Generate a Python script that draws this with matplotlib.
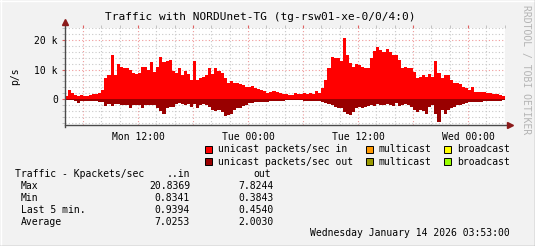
import numpy as np
import matplotlib
matplotlib.use("Agg")
import matplotlib.pyplot as plt
import matplotlib.dates as mdates
from matplotlib.patches import Rectangle
from matplotlib.ticker import FuncFormatter

# 20 minute buckets starting Mon 2026-01-12 04:00, values in Kpackets/sec
start = np.datetime64("2026-01-12T04:00")
step = np.timedelta64(20, "m")

in_k = [1.1, 3.0, 2.0, 1.5, 1.2, 1.3, 1.0, 1.0, 1.3, 1.6, 1.7, 2.2,
        3.0, 7.0, 8.0, 14.9, 8.1, 12.0, 11.0, 10.6, 10.6, 10.0, 9.0, 8.4,
        8.8, 11.0, 11.0, 9.8, 12.5, 9.3, 11.0, 14.1, 12.4, 12.8, 13.4, 9.5,
        9.0, 10.4, 8.1, 9.5, 8.4, 6.4, 13.0, 6.4, 7.2, 7.6, 8.1, 10.6,
        8.4, 10.4, 9.5, 8.7, 7.2, 5.3, 6.1, 5.6, 5.3, 5.0, 4.7, 4.2,
        4.2, 4.4, 3.6, 3.4, 3.1, 2.9, 2.0, 2.5, 2.7, 2.5, 1.9, 1.7,
        1.6, 1.4, 1.4, 1.9, 1.6, 1.8, 1.9, 1.7, 2.1, 1.8, 2.9, 2.1,
        3.6, 6.4, 10.4, 14.4, 14.0, 13.8, 12.9, 20.8, 15.1, 12.1, 11.0, 11.8,
        11.5, 11.0, 10.6, 10.4, 14.0, 16.3, 17.7, 16.6, 15.8, 17.0, 16.0, 15.1,
        15.1, 13.2, 10.4, 11.0, 10.6, 10.4, 9.3, 7.2, 7.6, 8.1, 7.6, 8.4,
        7.6, 12.9, 8.7, 7.0, 8.1, 8.1, 6.4, 5.6, 5.3, 5.0, 4.2, 3.6,
        3.1, 4.2, 2.5, 2.3, 2.5, 2.5, 1.9, 1.9, 1.7, 1.6, 1.4, 0.9]

out_k = [0.4, 0.4, 0.4, 0.5, 1.5, 0.5, 0.6, 0.6, 0.6, 0.6, 0.6, 0.9,
         1.1, 2.3, 1.6, 2.3, 1.8, 1.8, 2.0, 2.0, 2.0, 3.2, 2.0, 2.0,
         2.0, 2.9, 2.0, 2.0, 2.0, 2.0, 2.9, 4.1, 4.9, 3.2, 2.6, 2.6,
         1.8, 1.5, 1.8, 2.0, 1.8, 2.6, 1.8, 3.2, 2.0, 1.8, 2.0, 2.6,
         3.7, 4.1, 3.7, 4.3, 5.6, 5.4, 4.9, 3.7, 3.2, 2.9, 2.3, 2.0,
         1.5, 1.5, 1.1, 0.9, 0.9, 1.1, 0.9, 0.7, 0.7, 0.7, 0.7, 0.7,
         0.4, 0.4, 0.4, 0.4, 0.4, 0.4, 0.5, 0.5, 0.5, 0.5, 0.5, 0.7,
         1.1, 1.5, 1.8, 2.0, 2.6, 3.2, 2.9, 4.3, 4.9, 5.4, 4.5, 3.2,
         2.6, 2.9, 2.6, 2.3, 2.0, 2.3, 1.8, 2.0, 2.0, 1.8, 2.0, 2.3,
         1.5, 2.3, 2.0, 1.8, 2.0, 2.6, 3.7, 4.5, 3.7, 4.1, 4.9, 2.6,
         2.0, 4.9, 7.8, 3.7, 5.2, 3.7, 3.2, 2.6, 2.0, 2.0, 1.8, 1.5,
         1.1, 1.1, 1.1, 0.9, 0.9, 0.7, 0.7, 0.5, 0.5, 0.5, 0.5, 0.45]

stat_rows = ["Max", "Min", "Last 5 min.", "Average"]
stat_in = ["20.8369", "0.8341", "0.9394", "7.0253"]
stat_out = ["7.8244", "0.3843", "0.4540", "2.0030"]

legend_rows = [
    [("#ff0000", "unicast packets/sec in"), ("#ff9900", "multicast"), ("#ffff00", "broadcast")],
    [("#990000", "unicast packets/sec out"), ("#999900", "multicast"), ("#99ff00", "broadcast")],
]

W, H = 535, 246
BG = "#f2f2f2"
plt.rcParams["font.family"] = ["DejaVu Sans Mono"]

fig = plt.figure(figsize=(W / 100, H / 100), dpi=100, facecolor=BG)

def fx(x):
    return x / W

def fy(y):
    return 1 - y / H

# plot area
x0, x1, y0, y1 = 64.7, 504.7, 28.3, 125
ax = fig.add_axes([fx(x0), fy(y1), fx(x1) - fx(x0), fy(y0) - fy(y1)])
ax.set_facecolor("white")

n = len(in_k)
t = start + step * np.arange(n + 1)
t = t.astype("datetime64[m]").astype(object)
vin = np.array(in_k + [in_k[-1]]) * 1000
vout = -np.array(out_k + [out_k[-1]]) * 1000

ax.fill_between(t, 0, vin, step="post", color="#ff0000", linewidth=0, zorder=3)
ax.fill_between(t, vout, 0, step="post", color="#990000", linewidth=0, zorder=3)

tstart = np.datetime64("2026-01-12T04:00").astype(object)
tend = np.datetime64("2026-01-14T04:00").astype(object)
ax.set_xlim(tstart, tend)
ax.set_ylim(-8800, 24000)

ax.xaxis.set_major_locator(mdates.HourLocator(byhour=[0, 6, 12, 18]))
ax.xaxis.set_minor_locator(mdates.HourLocator(byhour=range(0, 24, 2)))

def xfmt(v, pos):
    d = mdates.num2date(v)
    if d.hour in (0, 12):
        return d.strftime("%a %H:%M")
    return ""

ax.xaxis.set_major_formatter(FuncFormatter(xfmt))
ax.set_yticks([0, 10000, 20000])
ax.set_yticklabels(["0", "10 k", "20 k"])
ax.set_yticks(np.arange(-8000, 24001, 2000), minor=True)

ax.grid(which="minor", color="#c8c8c8", linestyle=(0, (1, 2)), linewidth=0.8, zorder=1)
ax.grid(which="major", color="#f09a9a", linestyle=(0, (1, 2)), linewidth=0.8, zorder=2)
ax.set_axisbelow(True)

ax.tick_params(which="both", labelsize=7, length=2, pad=3, direction="out",
               top=True, right=False)
ax.tick_params(which="major", color="#e06060")
ax.tick_params(which="minor", color="#bbbbbb")
ax.tick_params(axis="x", which="both", bottom=False)

for s in ["top", "right", "bottom", "left"]:
    ax.spines[s].set_visible(False)

# axis lines with arrows
ax.plot([0, 1.012], [0, 0], transform=ax.transAxes, color="#4a4a4a", lw=1, clip_on=False, zorder=5)
ax.plot([0, 0], [-0.02, 1.07], transform=ax.transAxes, color="#4a4a4a", lw=1, clip_on=False, zorder=5)
ax.plot([1.012], [0], transform=ax.transAxes, marker=">", color="#8b1a1a", ms=5, clip_on=False, zorder=6)
ax.plot([0], [1.07], transform=ax.transAxes, marker="^", color="#8b1a1a", ms=5, clip_on=False, zorder=6)

ax.set_ylabel("p/s", fontsize=7, labelpad=10)

# title and side text
fig.text(fx(260), fy(16.5), "Traffic with NORDUnet-TG (tg-rsw01-xe-0/0/4:0)",
         ha="center", va="center", fontsize=8)
fig.text(fx(526), fy(70), "RRDTOOL / TOBI OETIKER", rotation=270,
         ha="center", va="center", fontsize=7, color="#b4b4b4")

# legend
box_x = [205.3, 366, 444.3]
txt_x = [218.3, 378.7, 456.7]
for r, (row, yy) in enumerate(zip(legend_rows, [149.3, 161.7])):
    for c, (col, lab) in enumerate(row):
        fig.patches.append(Rectangle((fx(box_x[c]), fy(yy + 3.5)), 7 / W, 7 / H,
                                     transform=fig.transFigure, facecolor=col,
                                     edgecolor="black", linewidth=0.7))
        fig.text(fx(txt_x[c]), fy(yy), lab, ha="left", va="center", fontsize=7)

# stats table
fig.text(fx(14.7), fy(173.7), "Traffic - Kpackets/sec", ha="left", va="center", fontsize=7)
fig.text(fx(190), fy(173.7), "..in", ha="right", va="center", fontsize=7)
fig.text(fx(271.5), fy(173.7), "out", ha="right", va="center", fontsize=7)
for i, lab in enumerate(stat_rows):
    yy = 185.7 + 12 * i
    fig.text(fx(20.7), fy(yy), lab, ha="left", va="center", fontsize=7)
    fig.text(fx(190), fy(yy), stat_in[i], ha="right", va="center", fontsize=7)
    fig.text(fx(274), fy(yy), stat_out[i], ha="right", va="center", fontsize=7)

fig.text(fx(509.5), fy(233.3), "Wednesday January 14 2026 03:53:00",
         ha="right", va="center", fontsize=7)

# outer bevel frame
fig.add_artist(plt.Line2D([0, 1], [fy(0.5), fy(0.5)], transform=fig.transFigure, color="white", lw=1))
fig.add_artist(plt.Line2D([fx(0.5), fx(0.5)], [0, 1], transform=fig.transFigure, color="white", lw=1))
fig.add_artist(plt.Line2D([0, 1], [fy(245.5), fy(245.5)], transform=fig.transFigure, color="#999999", lw=1))
fig.add_artist(plt.Line2D([fx(534.5), fx(534.5)], [0, 1], transform=fig.transFigure, color="#999999", lw=1))

fig.savefig("out.png", dpi=100, facecolor=BG)
